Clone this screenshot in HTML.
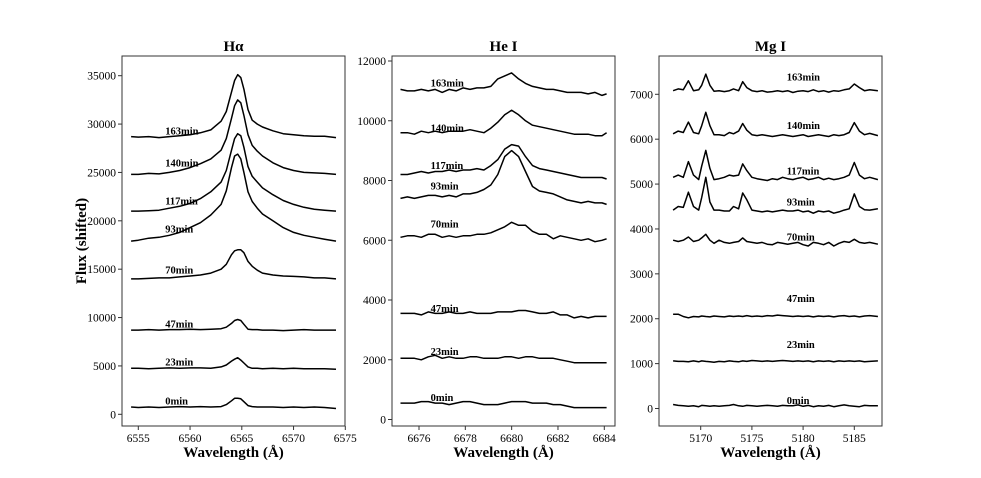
<!DOCTYPE html>
<html><head><meta charset="utf-8"><style>
html,body{margin:0;padding:0;background:#fff;}
svg{display:block;font-family:"Liberation Serif",serif;}
</style></head><body>
<svg id="fig" width="981" height="478" viewBox="0 0 981 478" xmlns="http://www.w3.org/2000/svg"></svg>
<script>
const labels=["0min","23min","47min","70min","93min","117min","140min","163min"];
// H-alpha
const haX=[6554.3,6555,6556,6557,6558,6559,6560,6561,6562,6563,6563.5,6564,6564.3,6564.6,6564.9,6565.2,6565.6,6566,6566.5,6567,6568,6569,6570,6571,6572,6573,6574.1];
const ha0=[750,700,750,700,750,800,750,800,750,800,1000,1400,1650,1650,1600,1300,900,800,750,750,750,700,750,700,750,700,600];
const ha23=[4750,4750,4700,4750,4800,4750,4800,4800,4750,4900,5100,5500,5700,5850,5600,5300,4900,4750,4750,4700,4750,4700,4750,4700,4700,4700,4650];
const ha47=[8700,8700,8750,8700,8750,8750,8800,8750,8800,8850,9000,9400,9700,9800,9700,9300,8800,8750,8750,8700,8700,8650,8700,8750,8700,8700,8700];
const ha70=[14000,14000,14050,14100,14100,14200,14300,14400,14600,15000,15500,16500,16900,17000,17000,16700,15800,15300,14900,14600,14400,14300,14250,14200,14100,14100,14000];
const ha93=[17900,18000,18200,18300,18500,18800,19300,19800,20600,21700,23100,25500,26700,26900,26400,25000,23000,22000,21300,20700,20000,19300,18800,18500,18300,18100,17900];
const ha117=[21000,21000,21050,21100,21300,21500,21800,22300,23000,24000,25200,27300,28500,29000,28800,27600,25600,24600,24000,23400,22700,22100,21700,21400,21200,21100,21000];
const ha140=[24800,24800,24900,24850,25000,25200,25500,25900,26400,27300,28500,30600,31900,32500,32200,30900,28900,27800,27200,26700,26000,25500,25200,25000,24950,24900,24800];
const ha163=[28700,28650,28700,28600,28700,28800,28900,29100,29400,30300,31300,33300,34500,35100,34800,33600,31500,30400,30000,29700,29300,29000,28900,28800,28750,28750,28600];
const haLabelX=6557.6;
const haLabelY=[1370,5400,9330,14920,19150,22050,25970,29290];
const haXTicks=[6555,6560,6565,6570,6575];
const haYTicks=[0,5000,10000,15000,20000,25000,30000,35000];
// He I
const heX=[6675.2,6675.5,6675.8,6676.1,6676.4,6676.7,6677.0,6677.3,6677.6,6677.9,6678.2,6678.5,6678.8,6679.1,6679.4,6679.7,6680.0,6680.3,6680.6,6680.9,6681.2,6681.5,6681.8,6682.1,6682.4,6682.7,6683.0,6683.3,6683.6,6683.9,6684.1];
const he0=[550,550,550,600,600,550,550,500,550,600,600,550,500,500,500,550,600,600,600,550,550,550,500,500,450,400,400,400,400,400,400];
const he23=[2050,2050,2050,2000,2100,2150,2050,2100,2050,2050,2100,2100,2050,2050,2050,2100,2100,2050,2100,2100,2050,2050,2050,2000,1950,1900,1900,1900,1900,1900,1900];
const he47=[3550,3550,3550,3500,3600,3550,3550,3600,3550,3550,3600,3550,3550,3550,3600,3600,3600,3650,3650,3600,3550,3550,3600,3500,3500,3400,3450,3400,3450,3450,3450];
const he70=[6100,6150,6150,6100,6200,6200,6100,6150,6100,6150,6150,6200,6200,6250,6350,6450,6600,6500,6500,6300,6200,6200,6050,6150,6100,6050,6000,6050,5950,6000,6050];
const he93=[7400,7450,7400,7450,7500,7500,7450,7500,7450,7550,7550,7600,7700,7850,8200,8800,9000,8800,8300,7800,7650,7600,7550,7450,7350,7300,7250,7300,7250,7250,7200];
const he117=[8200,8200,8250,8300,8250,8300,8300,8350,8300,8350,8350,8400,8350,8500,8700,9050,9200,9150,8800,8500,8400,8350,8300,8250,8200,8150,8100,8100,8100,8100,8050];
const he140=[9600,9600,9550,9650,9600,9650,9600,9650,9650,9650,9700,9650,9600,9750,9950,10200,10350,10200,10000,9850,9800,9750,9700,9650,9600,9550,9550,9550,9500,9500,9600];
const he163=[11050,11000,11000,11050,11000,11050,10950,11050,11000,11100,11050,11100,11100,11150,11400,11500,11600,11400,11250,11150,11100,11050,11050,11000,10950,10950,10950,10900,10950,10850,10900];
const heLabelX=6676.5;
const heLabelY=[740,2280,3720,6540,7810,8510,9750,11260];
const heXTicks=[6676,6678,6680,6682,6684];
const heYTicks=[0,2000,4000,6000,8000,10000,12000];
// Mg I
const mgX=[5167.3,5167.8,5168.3,5168.8,5169.3,5169.8,5170.1,5170.5,5170.9,5171.3,5171.8,5172.3,5172.8,5173.2,5173.7,5174.1,5174.5,5175.0,5175.5,5176,5176.5,5177,5177.5,5178,5178.5,5179,5179.5,5180,5180.5,5181,5181.5,5182,5182.5,5183,5183.5,5184,5184.5,5185,5185.5,5186,5186.5,5187.3];
const mg0=[90,70,60,50,60,40,70,60,50,60,50,60,70,90,60,50,70,60,50,60,70,60,50,70,60,60,80,50,70,40,60,50,70,40,60,80,60,50,40,70,60,60];
const mg23=[1060,1050,1050,1040,1060,1040,1060,1050,1040,1030,1050,1040,1060,1050,1040,1060,1050,1070,1060,1050,1060,1050,1060,1070,1060,1050,1060,1050,1060,1040,1060,1050,1060,1040,1060,1050,1060,1050,1060,1040,1050,1060];
const mg47=[2100,2100,2050,2020,2050,2040,2060,2050,2040,2060,2050,2040,2060,2050,2060,2050,2070,2050,2060,2050,2070,2060,2080,2070,2060,2050,2060,2050,2060,2040,2060,2050,2060,2040,2060,2070,2050,2060,2040,2060,2070,2050];
const mg70=[3750,3720,3750,3820,3720,3750,3800,3880,3750,3680,3750,3700,3680,3700,3720,3800,3720,3700,3680,3700,3660,3650,3700,3680,3660,3680,3700,3650,3620,3700,3680,3650,3700,3620,3680,3720,3700,3770,3700,3680,3700,3660];
const mg93=[4420,4500,4480,4820,4500,4420,4700,5150,4600,4420,4420,4400,4400,4500,4450,4800,4650,4420,4400,4380,4400,4380,4400,4420,4400,4400,4420,4380,4400,4350,4400,4380,4400,4350,4380,4420,4450,4780,4500,4430,4420,4450];
const mg117=[5150,5200,5150,5500,5200,5100,5400,5750,5350,5100,5120,5150,5200,5180,5200,5450,5300,5150,5120,5100,5080,5120,5100,5150,5120,5100,5130,5150,5100,5120,5150,5100,5130,5100,5120,5150,5200,5480,5200,5120,5150,5100];
const mg140=[6120,6180,6150,6380,6150,6120,6300,6600,6300,6100,6100,6080,6150,6120,6180,6350,6200,6100,6080,6100,6080,6060,6080,6100,6080,6060,6080,6100,6060,6080,6100,6080,6060,6100,6080,6100,6150,6370,6180,6100,6130,6080];
const mg163=[7080,7120,7100,7300,7080,7100,7200,7450,7200,7070,7080,7060,7080,7120,7080,7280,7150,7080,7060,7080,7050,7060,7080,7060,7080,7040,7070,7080,7060,7100,7060,7080,7050,7080,7070,7100,7120,7230,7150,7080,7100,7080];
const mgLabelX=5178.4;
const mgLabelY=[180,1430,2455,3820,4600,5290,6310,7390];
const mgXTicks=[5170,5175,5180,5185];
const mgYTicks=[0,1000,2000,3000,4000,5000,6000,7000];

const NS="http://www.w3.org/2000/svg";
const svg=document.getElementById('fig');
function mk(tag,attrs,parent){const e=document.createElementNS(NS,tag);for(const k in attrs)e.setAttribute(k,attrs[k]);(parent||svg).appendChild(e);return e;}

const panels=[
 {key:'halpha',title:'Hα',left:122,right:345,top:56,bottom:426,x0:6555,px0:138.3,x1:6575,px1:345.3,y0:0,py0:414.3,y1:35000,py1:75.7,X:haX,S:[ha0,ha23,ha47,ha70,ha93,ha117,ha140,ha163],lx:haLabelX,ly:haLabelY,xt:haXTicks,yt:haYTicks},
 {key:'hei',title:'He I',left:392,right:615,top:56,bottom:426,x0:6676,px0:419,x1:6684,px1:604.3,y0:0,py0:419.5,y1:12000,py1:61,X:heX,S:[he0,he23,he47,he70,he93,he117,he140,he163],lx:heLabelX,ly:heLabelY,xt:heXTicks,yt:heYTicks},
 {key:'mgi',title:'Mg I',left:659,right:882,top:56,bottom:426,x0:5170,px0:700.7,x1:5185,px1:854.3,y0:0,py0:408.5,y1:7000,py1:94.3,X:mgX,S:[mg0,mg23,mg47,mg70,mg93,mg117,mg140,mg163],lx:mgLabelX,ly:mgLabelY,xt:mgXTicks,yt:mgYTicks}
];

panels.forEach(p=>{
 const sx=v=>p.px0+(v-p.x0)*(p.px1-p.px0)/(p.x1-p.x0);
 const sy=v=>p.py0+(v-p.y0)*(p.py1-p.py0)/(p.y1-p.y0);
 const g=mk('g',{});
 
 
 const fr=mk('rect',{x:p.left,y:p.top,width:p.right-p.left,height:p.bottom-p.top,fill:'none',stroke:'#333',"stroke-width":1},g);
 
 
 const t=mk('text',{x:(p.left+p.right)/2,y:51,"text-anchor":'middle',"font-size":15,"font-weight":'bold'},g);
 t.textContent=p.title;
 
 
 p.xt.forEach(v=>{
  const x=sx(v);
  mk('line',{x1:x,x2:x,y1:p.bottom,y2:p.bottom+4,stroke:'#333'},g);
  const tl=mk('text',{x:x,y:p.bottom+16,"text-anchor":'middle',"font-size":11.5},g);
  tl.textContent=v;
  
  
 });
 p.yt.forEach(v=>{
  const y=sy(v);
  mk('line',{x1:p.left-4,x2:p.left,y1:y,y2:y,stroke:'#333'},g);
  const tl=mk('text',{x:p.left-6,y:y+4,"text-anchor":'end',"font-size":11.5},g);
  tl.textContent=v;
  
  
 });
 const xl=mk('text',{x:(p.left+p.right)/2,y:457,"text-anchor":'middle',"font-size":15,"font-weight":'bold'},g);
 xl.textContent='Wavelength (Å)';
 
 
 p.S.forEach((s,i)=>{
  const d=s.map((v,j)=>(j?'L':'M')+sx(p.X[j]).toFixed(1)+','+sy(v).toFixed(1)).join('');
  const pa=mk('path',{d:d,fill:'none',stroke:'#000',"stroke-width":1.5,"stroke-linejoin":'round'},g);
  
  
  const lb=mk('text',{x:sx(p.lx),y:sy(p.ly[i])+3.5,"font-size":10.5,"font-weight":'bold'},g);
  lb.textContent=labels[i];
  
  
 });
});
const yl=mk('text',{x:0,y:0,transform:'translate(86,241) rotate(-90)',"text-anchor":'middle',"font-size":15,"font-weight":'bold'});
yl.textContent='Flux (shifted)';


</script>
</body></html>
